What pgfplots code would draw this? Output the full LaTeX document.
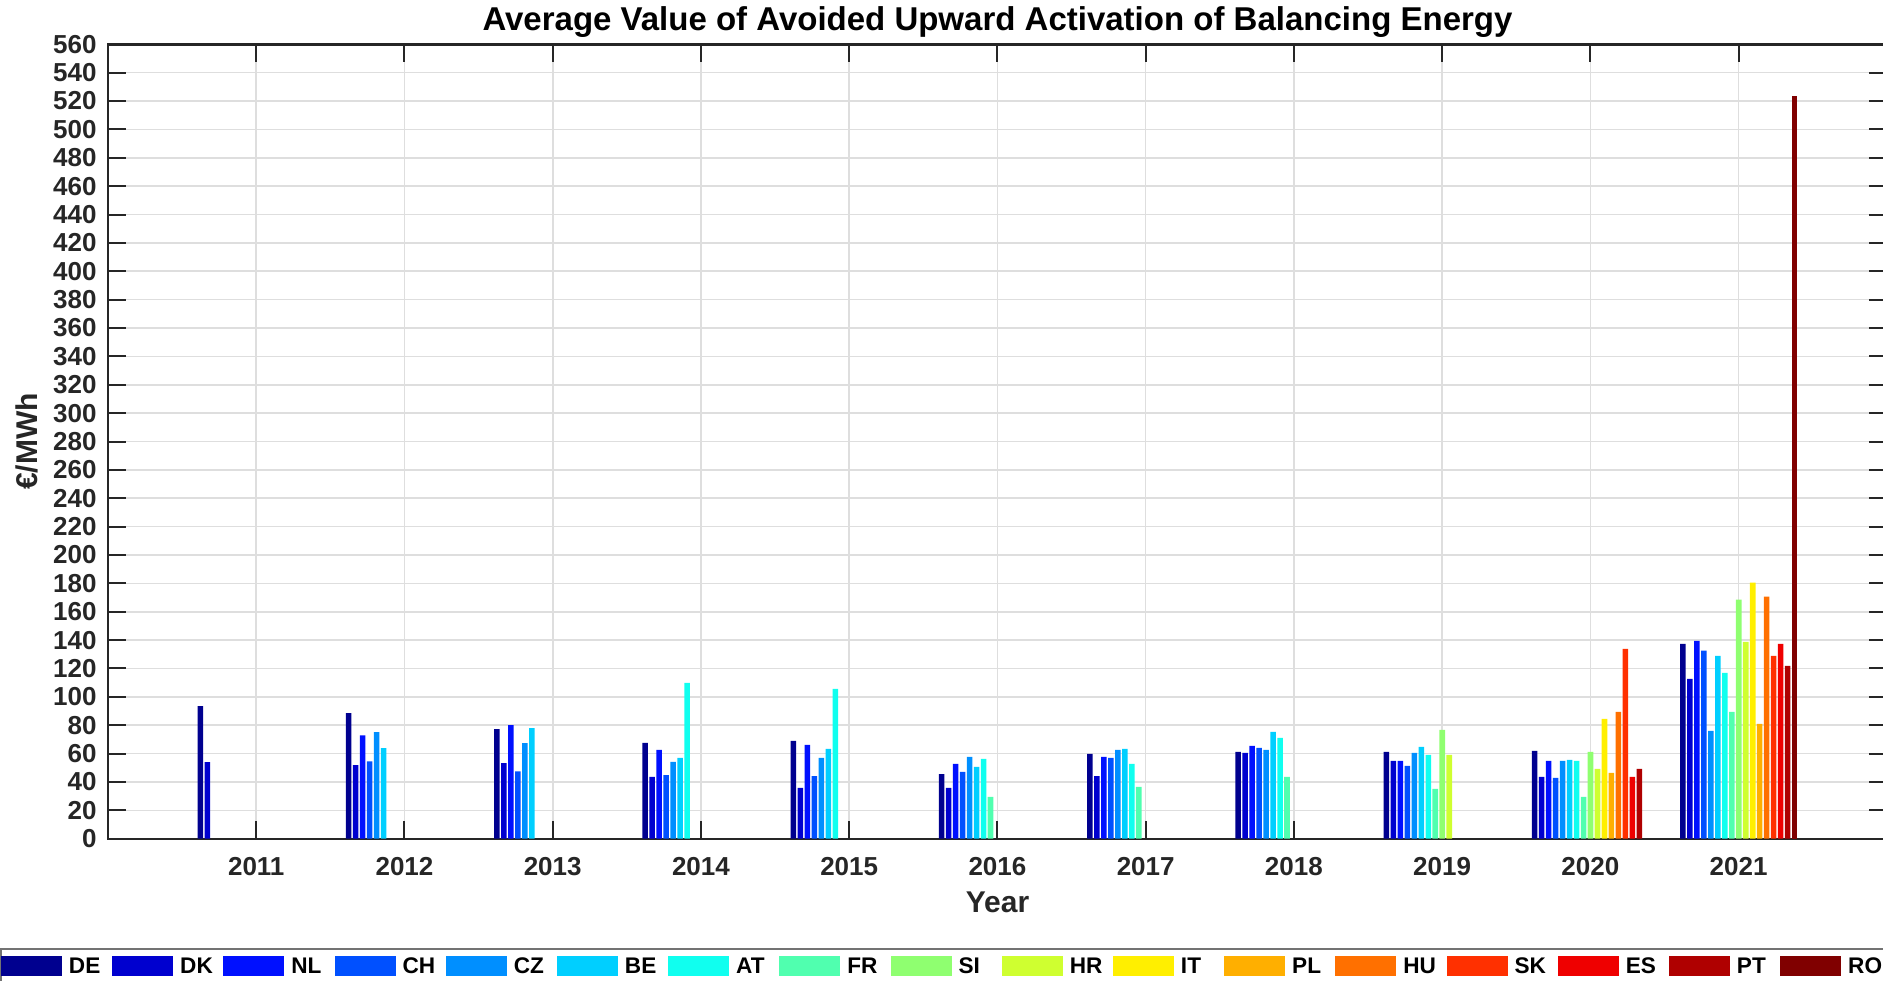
\documentclass[border=0pt]{standalone}
\usepackage{fontspec}
\setmainfont{Liberation Sans}
\usepackage{pgfplots}
\pgfplotsset{compat=1.18}

% jet colours, one per country
\definecolor{cDE}{rgb}{0,0,0.5625}
\definecolor{cDK}{rgb}{0,0,0.8125}
\definecolor{cNL}{rgb}{0,0.0625,1}
\definecolor{cCH}{rgb}{0,0.3125,1}
\definecolor{cCZ}{rgb}{0,0.5625,1}
\definecolor{cBE}{rgb}{0,0.8125,1}
\definecolor{cAT}{rgb}{0.0625,1,0.9375}
\definecolor{cFR}{rgb}{0.3125,1,0.6875}
\definecolor{cSI}{rgb}{0.5625,1,0.4375}
\definecolor{cHR}{rgb}{0.8125,1,0.1875}
\definecolor{cIT}{rgb}{1,0.9375,0}
\definecolor{cPL}{rgb}{1,0.6875,0}
\definecolor{cHU}{rgb}{1,0.4375,0}
\definecolor{cSK}{rgb}{1,0.1875,0}
\definecolor{cES}{rgb}{0.9375,0,0}
\definecolor{cPT}{rgb}{0.6875,0,0}
\definecolor{cRO}{rgb}{0.5,0,0}
\definecolor{axgray}{rgb}{0.15,0.15,0.15}

\newcommand\tickfont{\bfseries\fontsize{13}{15}\selectfont}
\newcommand\labfont{\bfseries\fontsize{15}{17}\selectfont}
\newcommand\titfont{\bfseries\fontsize{16.5}{19}\selectfont}
\newcommand\legfont{\bfseries\fontsize{11.3}{13}\selectfont}
\newcommand\legtxt[1]{\hspace*{3.5pt}\makebox[21.6pt][l]{#1}}

\begin{document}
\begin{tikzpicture}
\begin{axis}[
    name=ax, at={(0,0)}, anchor=south west,
    scale only axis, width=889.5pt, height=397.2pt,
    xmin=2010, xmax=2022, ymin=0, ymax=560,
    ybar, bar width=0.03765,
    xtick={2011,...,2021}, ytick={0,20,...,560},
    tick align=inside, major tick length=9pt,
    tick style={line width=1pt, color=axgray},
    axis line style={line width=1.2pt, color=axgray},
    grid=major,
    major grid style={line width=0.8pt, color=black!13},
    /pgf/number format/.cd, 1000 sep={}, assume math mode=true, /pgfplots/.cd,
    ticklabel style={font=\tickfont, text=axgray},
    yticklabel style={xshift=-2.2pt},
    xticklabel style={anchor=base, yshift=-18.15pt},
    title={Average Value of Avoided Upward Activation of Balancing Energy},
    title style={font=\titfont, at={(axis description cs:0.5,1)}, anchor=base, yshift=1.15pt},
    xlabel={Year},
    xlabel style={font=\labfont, text=axgray, at={(axis description cs:0.5,0)}, anchor=base, yshift=-37pt},
    ylabel={€/MWh},
    ylabel style={font=\labfont, text=axgray, at={(axis description cs:-0.03952,0.5)}, anchor=base},
    legend image code/.code={\fill[#1] (0pt,-5pt) rectangle (30.5pt,5pt);},
    legend columns=-1,
    legend cell align=left,
    legend style={
        at={(axis description cs:-0.06071,-0.13759)}, anchor=north west,
        cells={anchor=west}, nodes={inner sep=0pt, text depth=0pt},
        inner xsep=0pt, inner ysep=3.5pt,
        draw=black!55, line width=1pt, font=\legfont
    },
]
%DE
\addplot[fill=cDE, draw=none, bar shift=-0.37647] coordinates {
  (2011,93.4) (2012,88.5) (2013,77.2) (2014,67.5) (2015,68.9) (2016,45.6)
  (2017,59.8) (2018,61.2) (2019,61.2) (2020,61.9) (2021,137.4)};
%DK
\addplot[fill=cDK, draw=none, bar shift=-0.32941] coordinates {
  (2011,53.9) (2012,51.8) (2013,53.2) (2014,43.5) (2015,35.8) (2016,35.8)
  (2017,44.2) (2018,60.5) (2019,54.8) (2020,43.5) (2021,112.7)};
%NL
\addplot[fill=cNL, draw=none, bar shift=-0.28235] coordinates {
  (2012,72.9) (2013,80.0) (2014,62.6) (2015,66.1) (2016,52.7)
  (2017,57.6) (2018,65.4) (2019,54.8) (2020,54.8) (2021,139.5)};
%CH
\addplot[fill=cCH, draw=none, bar shift=-0.23529] coordinates {
  (2012,54.6) (2013,47.5) (2014,44.9) (2015,44.2) (2016,47.1)
  (2017,56.9) (2018,64.0) (2019,51.3) (2020,42.8) (2021,132.5)};
%CZ
\addplot[fill=cCZ, draw=none, bar shift=-0.18824] coordinates {
  (2012,75.1) (2013,67.3) (2014,54.1) (2015,56.9) (2016,57.6)
  (2017,62.6) (2018,62.6) (2019,60.5) (2020,54.8) (2021,76.0)};
%BE
\addplot[fill=cBE, draw=none, bar shift=-0.14118] coordinates {
  (2012,63.8) (2013,77.9) (2014,56.9) (2015,63.3) (2016,50.6)
  (2017,63.3) (2018,75.3) (2019,64.7) (2020,55.5) (2021,128.9)};
%AT
\addplot[fill=cAT, draw=none, bar shift=-0.09412] coordinates {
  (2014,109.9) (2015,105.6) (2016,56.2)
  (2017,52.7) (2018,71.1) (2019,59.1) (2020,54.8) (2021,116.9)};
%FR
\addplot[fill=cFR, draw=none, bar shift=-0.04706] coordinates {
  (2016,29.4) (2017,36.5) (2018,43.5) (2019,35.1) (2020,29.4) (2021,89.4)};
%SI
\addplot[fill=cSI, draw=none, bar shift=0] coordinates {
  (2019,76.7) (2020,61.2) (2021,168.5)};
%HR
\addplot[fill=cHR, draw=none, bar shift=0.04706] coordinates {
  (2019,59.1) (2020,49.2) (2021,138.8)};
%IT
\addplot[fill=cIT, draw=none, bar shift=0.09412] coordinates {
  (2020,84.5) (2021,180.5)};
%PL
\addplot[fill=cPL, draw=none, bar shift=0.14118] coordinates {
  (2020,46.4) (2021,80.9)};
%HU
\addplot[fill=cHU, draw=none, bar shift=0.18824] coordinates {
  (2020,89.4) (2021,170.6)};
%SK
\addplot[fill=cSK, draw=none, bar shift=0.23529] coordinates {
  (2020,133.9) (2021,128.9)};
%ES
\addplot[fill=cES, draw=none, bar shift=0.28235] coordinates {
  (2020,43.5) (2021,137.4)};
%PT
\addplot[fill=cPT, draw=none, bar shift=0.32941] coordinates {
  (2020,49.2) (2021,121.9)};
%RO
\addplot[fill=cRO, draw=none, bar shift=0.37647] coordinates {
  (2021,523.5)};

\legend{\legtxt{DE},\legtxt{DK},\legtxt{NL},\legtxt{CH},\legtxt{CZ},\legtxt{BE},
        \legtxt{AT},\legtxt{FR},\legtxt{SI},\legtxt{HR},\legtxt{IT},\legtxt{PL},
        \legtxt{HU},\legtxt{SK},\legtxt{ES},\legtxt{PT},\legtxt{RO}}
\end{axis}
\pgfresetboundingbox
\useasboundingbox (-54pt,-70.65pt) rectangle (887.5pt,419.35pt);
\end{tikzpicture}
\end{document}
